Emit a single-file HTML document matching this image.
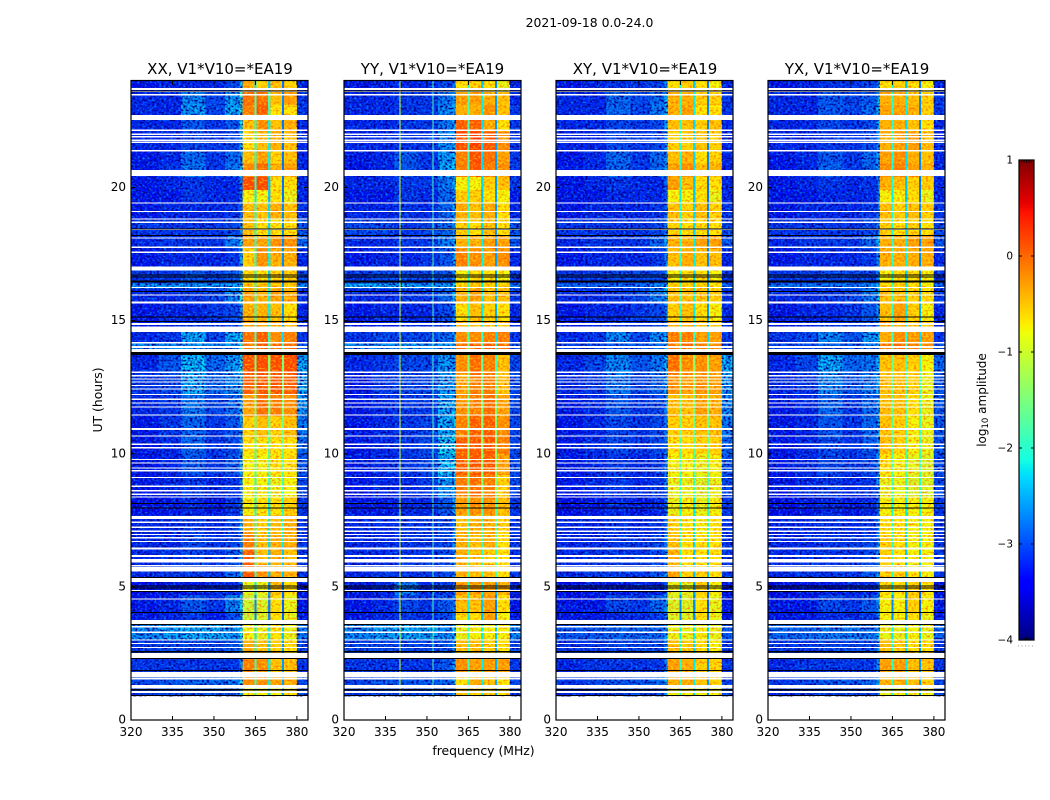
<!DOCTYPE html>
<html>
<head>
<meta charset="utf-8">
<title>2021-09-18 0.0-24.0</title>
<style>
html,body{margin:0;padding:0;background:#fff;width:1050px;height:800px;overflow:hidden}
svg{display:block}
text{font-family:"DejaVu Sans","Liberation Sans",sans-serif;fill:#000}
</style>
</head>
<body>
<svg id="fig" xmlns="http://www.w3.org/2000/svg" width="1050" height="800" viewBox="0 0 1050 800">
  <defs>
    <filter id="speckle-navy" x="0" y="0" width="1" height="1" color-interpolation-filters="sRGB">
      <feTurbulence type="fractalNoise" baseFrequency="0.42 0.5" numOctaves="1" seed="3"/>
      <feColorMatrix type="matrix" values="0 0 0 0 0  0 0 0 0 0  0 0 0 0 0.55  3.6 0 0 0 -1.5"/>
    </filter>
    <filter id="speckle-sky" x="0" y="0" width="1" height="1" color-interpolation-filters="sRGB">
      <feTurbulence type="fractalNoise" baseFrequency="0.42 0.5" numOctaves="1" seed="8"/>
      <feColorMatrix type="matrix" values="0 0 0 0 0  0 0 0 0 0.5  0 0 0 0 1  0 3 0 0 -1.45"/>
    </filter>
    <filter id="speckle-red" x="0" y="0" width="1" height="1" color-interpolation-filters="sRGB">
      <feTurbulence type="fractalNoise" baseFrequency="0.42 0.5" numOctaves="1" seed="5"/>
      <feColorMatrix type="matrix" values="0 0 0 0 1  0 0 0 0 0.3  0 0 0 0 0  2.2 0 0 0 -1"/>
    </filter>
    <filter id="speckle-yellow" x="0" y="0" width="1" height="1" color-interpolation-filters="sRGB">
      <feTurbulence type="fractalNoise" baseFrequency="0.42 0.5" numOctaves="1" seed="11"/>
      <feColorMatrix type="matrix" values="0 0 0 0 1  0 0 0 0 1  0 0 0 0 0  0 1.8 0 0 -0.85"/>
    </filter>
  </defs>
  <rect x="0" y="0" width="1050" height="800" fill="#fff"/>
  <text x="589.5" y="27" font-size="12.4" text-anchor="middle">2021-09-18 0.0-24.0</text>
  <g id="heat"></g>
  <g id="flags"></g>
  <g id="axes"></g>
  <text x="220" y="74" font-size="15" text-anchor="middle">XX, V1*V10=*EA19</text>
  <text x="432.5" y="74" font-size="15" text-anchor="middle">YY, V1*V10=*EA19</text>
  <text x="645" y="74" font-size="15" text-anchor="middle">XY, V1*V10=*EA19</text>
  <text x="857" y="74" font-size="15" text-anchor="middle">YX, V1*V10=*EA19</text>
  <text x="483.5" y="755" font-size="12.4" text-anchor="middle">frequency (MHz)</text>
  <text transform="translate(102,400) rotate(-90)" font-size="12.4" text-anchor="middle">UT (hours)</text>
  <g id="cbar"></g>
  <text transform="translate(986,400) rotate(-90)" font-size="12" text-anchor="middle">log<tspan font-size="8.5" dy="2">10</tspan><tspan dy="-2"> amplitude</tspan></text>
  <line x1="1018" y1="646" x2="1035" y2="646" stroke="#999" stroke-width="1" stroke-dasharray="1 2.5"/>
</svg>
<script>
// Frequency column edges (MHz) and UT row edges (hours)
const freqEdges = [320,330,338,347,354,359.3,360.4,364.6,365.4,369.6,370.4,374.6,375.4,380,384];
const utEdges = [24,23.6,23.1,22.6,22.1,21.4,20.9,20.4,19.9,19.4,18.8,18.2,17.7,17,16.4,16.2,15.7,15,14.6,14.2,13.7,13,12.2,11.4,10.6,10,9.2,8.4,7.7,7,6.4,5.8,5.2,4.7,4,3.6,3,2.5,1.8,1.2,0.9];
const xTickLabels = [320,335,350,365,380];
const yTickLabels = [0,5,10,15,20];
const colorbarTicks = [1,0,-1,-2,-3,-4];

// log10 amplitude per UT row, per frequency column
const ampXX = [
[-3.3,-3.2,-3.2,-3.2,-3.0,-2.4,-0.4,-2.2,-0.6,-2.4,-0.5,-2.8,-0.6,-3.2],
[-3.2,-3.2,-2.6,-3.0,-2.5,-2.0,0.0,-1.8,0.0,-1.9,-0.5,-2.7,-0.3,-3.1],
[-3.2,-3.2,-2.5,-3.0,-2.4,-2.0,-0.1,-1.8,0.1,-1.9,-0.7,-2.8,-0.7,-3.1],
[-3.2,-3.2,-2.9,-3.1,-2.9,-2.2,-0.5,-2.0,-0.2,-2.2,-0.5,-2.8,-0.4,-3.2],
[-3.2,-3.2,-3.0,-3.1,-3.0,-2.4,-0.7,-2.0,-0.5,-2.2,-0.4,-2.8,-0.5,-3.2],
[-3.3,-3.2,-2.8,-3.1,-2.8,-2.4,-0.5,-2.0,-0.3,-2.2,-0.6,-2.8,-0.5,-3.2],
[-3.3,-3.1,-2.7,-3.1,-2.7,-2.3,-0.2,-2.0,0.0,-2.2,-0.4,-2.8,-0.3,-3.2],
[-3.3,-3.2,-3.1,-3.2,-3.2,-2.7,0.2,-2.0,0.2,-2.4,-0.7,-2.8,-0.7,-3.2],
[-3.3,-3.3,-3.1,-3.2,-3.2,-2.8,-0.8,-2.2,-0.8,-2.4,-0.7,-2.8,-0.9,-3.2],
[-3.3,-3.2,-3.2,-3.2,-3.1,-2.8,-0.5,-2.1,-0.5,-2.3,-0.4,-2.7,-0.5,-3.1],
[-3.1,-3.1,-3.1,-3.1,-3.0,-2.6,-0.5,-2.0,-0.7,-2.3,-0.7,-2.7,-0.7,-2.9],
[-3.2,-3.1,-3.1,-3.1,-2.7,-2.2,-0.3,-2.0,-0.3,-2.2,-0.2,-2.7,-0.2,-2.8],
[-3.3,-3.2,-3.2,-3.2,-3.1,-2.5,-0.6,-2.0,-0.2,-2.2,-0.4,-2.7,-0.4,-3.2],
[-3.1,-3.1,-2.9,-3.0,-2.9,-2.4,-0.7,-2.0,-0.7,-2.3,-0.6,-2.7,-0.6,-3.0],
[-2.5,-2.5,-2.5,-2.5,-2.4,-2.1,-0.5,-1.9,-0.5,-2.2,-0.5,-2.6,-0.6,-2.6],
[-3.2,-3.2,-3.1,-3.0,-2.6,-2.1,-0.3,-1.9,-0.4,-2.2,-0.3,-2.6,-0.4,-3.1],
[-3.3,-3.2,-3.2,-3.1,-3.0,-2.6,-0.4,-1.9,-0.4,-2.2,-0.5,-2.6,-0.7,-3.2],
[-3.3,-3.2,-3.1,-3.1,-3.0,-2.6,-0.3,-1.9,-0.3,-2.2,-0.4,-2.6,-0.5,-3.2],
[-3.2,-3.1,-2.4,-3.0,-2.4,-2.2,0.0,-1.8,0.1,-2.0,-0.2,-2.3,-0.1,-3.1],
[-2.6,-2.6,-2.5,-2.6,-2.5,-2.2,-0.1,-1.7,0.1,-1.9,0.0,-2.0,0.0,-2.9],
[-3.2,-2.9,-2.3,-2.8,-2.5,-2.1,0.2,-1.5,0.2,-1.4,0.2,-1.5,0.2,-2.4],
[-3.1,-3.0,-2.4,-2.8,-2.6,-2.2,0.1,-1.5,0.15,-1.4,0.15,-1.5,0.1,-2.4],
[-3.2,-3.1,-2.7,-3.0,-2.8,-2.4,-0.3,-1.5,0.0,-1.5,-0.1,-1.5,-0.2,-2.5],
[-3.3,-3.1,-2.8,-3.1,-2.9,-2.5,-0.6,-1.6,-0.5,-1.6,-0.6,-1.6,-0.5,-2.7],
[-3.3,-3.2,-2.8,-3.1,-3.0,-2.5,-0.7,-1.8,-0.7,-1.7,-0.7,-1.6,-0.7,-2.8],
[-3.3,-3.2,-2.9,-3.1,-2.9,-2.5,-0.8,-1.8,-0.8,-1.7,-0.7,-1.7,-0.7,-2.9],
[-3.3,-3.2,-3.1,-3.2,-3.1,-2.6,-0.8,-2.0,-0.8,-1.9,-0.9,-1.9,-0.8,-3.0],
[-3.4,-3.3,-3.2,-3.3,-3.1,-2.7,-0.8,-2.1,-0.7,-2.2,-0.7,-2.0,-0.6,-3.1],
[-3.2,-3.2,-3.1,-3.2,-3.0,-2.5,-0.4,-2.0,-0.6,-2.2,-0.5,-2.1,-0.4,-3.1],
[-3.2,-3.2,-3.0,-3.1,-3.0,-2.5,-0.1,-2.0,-0.5,-2.3,-0.4,-2.2,-0.4,-3.1],
[-3.2,-3.1,-3.0,-3.1,-2.9,-2.4,0.1,-1.9,-0.5,-2.4,-0.4,-2.4,-0.5,-3.1],
[-3.2,-3.1,-3.1,-3.1,-2.8,-2.3,0.15,-1.9,-0.2,-2.4,-0.4,-2.4,-0.4,-3.1],
[-3.4,-3.3,-3.3,-3.2,-3.2,-2.8,-0.9,-2.2,-0.9,-2.6,-0.5,-2.8,-0.7,-3.3],
[-3.3,-3.2,-2.9,-3.1,-2.6,-2.3,-1.1,-2.7,-1.0,-2.7,-0.7,-2.9,-0.9,-3.3],
[-3.3,-3.2,-3.1,-3.3,-3.0,-2.5,-1.1,-2.7,-1.0,-2.7,-0.7,-2.9,-0.9,-3.3],
[-2.6,-2.5,-2.4,-2.4,-2.5,-2.2,-0.8,-2.2,-0.9,-2.2,-0.7,-2.4,-0.9,-2.7],
[-3.1,-3.0,-3.0,-3.0,-2.9,-2.4,-0.4,-2.1,-0.5,-2.3,-0.6,-2.6,-0.7,-3.0],
[-3.1,-3.1,-3.1,-3.1,-3.1,-2.5,-0.1,-1.9,-0.2,-2.2,-0.5,-2.6,-0.5,-3.1],
[-3.0,-2.9,-2.8,-2.8,-2.7,-2.2,-0.2,-1.9,-0.2,-2.2,-0.3,-2.6,-0.4,-3.0],
[-3.1,-3.0,-2.9,-2.9,-2.9,-2.4,-0.8,-2.0,-0.8,-2.3,-0.8,-2.6,-0.7,-2.9]
];
const ampYY = [
[-3.3,-3.2,-3.2,-3.2,-3.0,-2.7,-0.7,-2.0,-0.6,-2.4,-0.7,-2.7,-0.9,-3.2],
[-3.2,-3.2,-3.1,-3.1,-2.7,-2.5,-0.3,-1.8,-0.3,-2.2,-0.4,-2.6,-0.5,-3.2],
[-3.2,-3.2,-3.1,-3.1,-2.6,-2.4,-0.4,-1.8,-0.4,-2.2,-0.2,-2.6,-0.5,-3.1],
[-3.2,-3.2,-3.1,-3.1,-2.7,-2.4,0.1,-1.9,0.1,-2.3,-0.4,-2.6,-0.7,-3.1],
[-3.2,-3.2,-3.1,-3.1,-2.6,-2.4,0.2,-2.0,0.3,-2.3,0.15,-2.6,-0.2,-3.1],
[-3.3,-3.2,-2.9,-3.1,-2.5,-2.3,-0.1,-1.9,0.2,-2.3,0.0,-2.6,-0.3,-3.1],
[-3.3,-3.2,-2.9,-3.1,-2.4,-2.3,-0.1,-1.9,0.15,-2.3,-0.1,-2.6,-0.2,-3.1],
[-3.2,-3.2,-3.1,-3.1,-2.7,-2.4,-0.8,-2.0,-0.8,-2.3,-0.6,-2.6,-0.5,-3.1],
[-3.3,-3.3,-3.1,-3.2,-2.8,-2.6,-0.6,-2.1,-0.6,-2.4,-0.7,-2.6,-0.8,-3.3],
[-3.2,-3.2,-3.1,-3.2,-2.8,-2.5,-0.4,-2.0,-0.5,-2.4,-0.4,-2.6,-0.7,-3.2],
[-3.0,-3.0,-3.1,-3.0,-2.8,-2.5,-0.6,-2.0,-0.7,-2.3,-0.5,-2.6,-0.7,-2.9],
[-3.2,-3.2,-3.1,-3.1,-2.7,-2.4,-0.4,-2.0,-0.4,-2.2,-0.3,-2.6,-0.3,-2.9],
[-3.3,-3.2,-3.2,-3.1,-2.9,-2.4,-0.1,-1.9,-0.2,-2.2,-0.3,-2.6,-0.2,-3.2],
[-3.1,-3.0,-3.0,-3.0,-2.9,-2.6,-0.8,-2.0,-0.7,-2.3,-0.7,-2.6,-0.8,-3.1],
[-2.4,-2.4,-2.4,-2.5,-2.4,-2.2,-0.6,-1.9,-0.5,-2.2,-0.6,-2.5,-0.6,-2.6],
[-3.2,-3.2,-3.1,-3.1,-2.8,-2.3,-0.4,-1.9,-0.3,-2.2,-0.5,-2.5,-0.5,-3.1],
[-3.3,-3.2,-3.2,-3.2,-3.0,-2.6,-0.7,-1.9,-0.5,-2.2,-0.6,-2.5,-0.7,-3.2],
[-3.3,-3.3,-3.2,-3.2,-3.0,-2.6,-0.5,-1.9,-0.5,-2.2,-0.5,-2.5,-0.6,-3.2],
[-3.1,-3.0,-3.0,-3.0,-2.8,-2.5,-0.2,-1.8,-0.2,-2.0,-0.1,-2.3,-0.1,-3.1],
[-2.6,-2.6,-2.5,-2.6,-2.5,-2.3,0.0,-1.6,0.1,-1.9,0.1,-2.1,0.0,-2.9],
[-3.2,-3.1,-3.0,-3.0,-2.5,-2.6,-0.2,-1.5,0.0,-1.7,-0.1,-1.9,-0.5,-3.0],
[-3.3,-3.1,-3.0,-3.0,-2.5,-2.5,-0.3,-1.5,-0.1,-1.6,-0.1,-1.6,-0.5,-3.0],
[-3.3,-3.2,-3.1,-3.1,-2.4,-2.3,-0.2,-1.5,-0.1,-1.5,0.0,-1.5,-0.3,-3.0],
[-3.3,-3.2,-3.1,-3.0,-2.4,-2.2,-0.1,-1.5,0.1,-1.5,0.1,-1.5,-0.2,-3.0],
[-3.3,-3.2,-3.1,-3.0,-2.2,-2.1,0.1,-1.4,0.15,-1.4,0.15,-1.4,-0.1,-3.0],
[-3.3,-3.2,-3.1,-3.0,-2.3,-2.2,0.1,-1.4,0.15,-1.4,0.1,-1.4,-0.3,-3.0],
[-3.3,-3.2,-3.2,-3.1,-2.5,-2.3,-0.1,-1.5,0.0,-1.5,-0.1,-1.5,-0.6,-3.0],
[-3.3,-3.3,-3.2,-3.2,-2.9,-2.4,-0.3,-1.8,-0.2,-1.8,-0.2,-1.8,-0.5,-3.1],
[-3.2,-3.2,-3.1,-3.1,-3.0,-2.6,-0.5,-1.9,-0.4,-1.9,-0.4,-1.8,-0.6,-3.1],
[-3.2,-3.2,-3.1,-3.1,-3.0,-2.5,-0.4,-1.8,-0.5,-1.9,-0.4,-1.8,-0.7,-3.1],
[-3.2,-3.2,-3.1,-3.1,-3.0,-2.6,-0.4,-1.8,-0.5,-2.0,-0.6,-1.9,-0.7,-3.1],
[-3.2,-3.1,-3.1,-3.1,-3.0,-2.6,-0.4,-1.8,-0.5,-2.0,-0.5,-1.9,-0.7,-3.1],
[-3.3,-3.2,-2.7,-3.2,-3.1,-2.7,-0.3,-2.0,-0.3,-2.2,-0.3,-2.5,-0.4,-3.2],
[-3.3,-3.2,-3.0,-3.1,-2.9,-2.7,-0.5,-2.2,-0.5,-2.4,-0.3,-2.7,-0.7,-3.3],
[-3.3,-3.2,-3.1,-3.2,-3.0,-2.7,-0.7,-2.2,-0.7,-2.4,-0.3,-2.7,-0.8,-3.3],
[-2.6,-2.5,-2.4,-2.4,-2.6,-2.3,-0.9,-2.0,-0.8,-2.2,-0.8,-2.4,-0.8,-2.6],
[-3.0,-3.0,-3.0,-3.0,-2.9,-2.5,-0.5,-2.0,-0.5,-2.2,-0.6,-2.5,-0.7,-3.0],
[-3.1,-3.1,-3.1,-3.1,-2.9,-2.5,-0.2,-1.9,-0.3,-2.2,-0.3,-2.5,-0.3,-3.1],
[-3.0,-2.9,-2.9,-2.9,-2.8,-2.5,-0.7,-2.0,-0.4,-2.2,-0.5,-2.5,-0.7,-3.0],
[-3.1,-3.0,-3.0,-3.0,-2.9,-2.5,-0.5,-2.0,-0.6,-2.2,-0.6,-2.5,-0.7,-3.1]
];
const ampXY = [
[-3.3,-3.2,-3.1,-3.1,-3.0,-2.6,-0.7,-2.1,-0.6,-2.4,-0.7,-2.8,-0.8,-3.2],
[-3.2,-3.2,-2.8,-3.0,-2.8,-2.4,-0.4,-2.0,-0.4,-2.2,-0.6,-2.7,-0.6,-3.1],
[-3.2,-3.2,-2.8,-3.0,-2.7,-2.4,-0.4,-2.0,-0.3,-2.2,-0.7,-2.7,-0.7,-3.1],
[-3.2,-3.2,-3.0,-3.1,-3.0,-2.5,-0.5,-2.0,-0.5,-2.3,-0.6,-2.7,-0.5,-3.2],
[-3.2,-3.2,-3.0,-3.1,-3.0,-2.6,-0.6,-2.1,-0.6,-2.3,-0.5,-2.7,-0.6,-3.2],
[-3.3,-3.2,-2.8,-3.1,-2.8,-2.6,-0.5,-2.1,-0.4,-2.3,-0.7,-2.7,-0.6,-3.2],
[-3.3,-3.2,-2.8,-3.1,-2.8,-2.5,-0.3,-2.1,-0.2,-2.3,-0.5,-2.7,-0.4,-3.2],
[-3.3,-3.2,-3.1,-3.2,-3.2,-2.8,-0.3,-2.1,-0.5,-2.4,-0.7,-2.8,-0.7,-3.2],
[-3.3,-3.3,-3.2,-3.2,-3.2,-2.9,-0.8,-2.2,-0.8,-2.4,-0.7,-2.8,-0.9,-3.2],
[-3.3,-3.2,-3.2,-3.2,-3.1,-2.8,-0.5,-2.1,-0.6,-2.3,-0.5,-2.7,-0.6,-3.1],
[-3.1,-3.1,-3.1,-3.1,-3.0,-2.7,-0.6,-2.1,-0.7,-2.3,-0.7,-2.7,-0.7,-3.0],
[-3.2,-3.1,-3.1,-3.1,-2.8,-2.4,-0.4,-2.0,-0.4,-2.2,-0.3,-2.7,-0.3,-2.9],
[-3.3,-3.2,-3.2,-3.2,-3.1,-2.6,-0.5,-2.0,-0.4,-2.2,-0.5,-2.7,-0.5,-3.2],
[-3.1,-3.1,-3.0,-3.0,-3.0,-2.6,-0.8,-2.0,-0.7,-2.3,-0.7,-2.7,-0.8,-3.1],
[-2.8,-2.8,-2.8,-2.8,-2.6,-2.3,-0.6,-1.9,-0.6,-2.2,-0.6,-2.6,-0.7,-2.8],
[-3.2,-3.2,-3.1,-3.0,-2.7,-2.2,-0.5,-1.9,-0.5,-2.2,-0.5,-2.6,-0.6,-3.1],
[-3.3,-3.2,-3.2,-3.1,-3.0,-2.7,-0.6,-2.0,-0.5,-2.2,-0.7,-2.6,-0.8,-3.2],
[-3.3,-3.2,-3.1,-3.1,-3.0,-2.7,-0.4,-2.0,-0.4,-2.2,-0.5,-2.6,-0.6,-3.2],
[-3.2,-3.1,-2.6,-3.0,-2.6,-2.4,-0.1,-1.8,-0.1,-2.0,-0.3,-2.3,-0.3,-3.1],
[-3.0,-3.0,-2.9,-2.9,-2.8,-2.4,-0.1,-1.7,0.0,-1.9,-0.1,-2.0,-0.2,-2.9],
[-3.2,-3.0,-2.6,-2.9,-2.7,-2.3,0.0,-1.4,-0.2,-1.4,-0.2,-1.4,-0.3,-2.4],
[-3.2,-3.1,-2.7,-3.0,-2.8,-2.4,-0.2,-1.5,-0.3,-1.4,-0.2,-1.5,-0.3,-2.5],
[-3.3,-3.2,-2.9,-3.1,-3.0,-2.6,-0.5,-1.6,-0.5,-1.5,-0.3,-1.5,-0.4,-2.6],
[-3.3,-3.2,-3.0,-3.1,-3.0,-2.7,-0.6,-1.6,-0.6,-1.6,-0.5,-1.6,-0.5,-2.7],
[-3.3,-3.2,-3.0,-3.1,-3.0,-2.7,-0.7,-1.8,-0.7,-1.7,-0.6,-1.6,-0.6,-2.8],
[-3.3,-3.2,-3.1,-3.2,-3.1,-2.7,-0.8,-1.8,-0.8,-1.7,-0.9,-1.7,-0.8,-2.9],
[-3.3,-3.2,-3.1,-3.2,-3.1,-2.7,-0.9,-2.0,-0.9,-1.9,-1.0,-1.9,-0.9,-3.0],
[-3.4,-3.3,-3.2,-3.3,-3.2,-2.8,-0.9,-2.1,-0.8,-2.2,-0.9,-2.0,-0.8,-3.1],
[-3.2,-3.2,-3.1,-3.2,-3.1,-2.7,-0.6,-2.0,-0.7,-2.2,-0.8,-2.1,-0.7,-3.1],
[-3.2,-3.2,-3.1,-3.1,-3.0,-2.6,-0.5,-2.0,-0.7,-2.3,-0.7,-2.2,-0.7,-3.1],
[-3.2,-3.1,-3.1,-3.1,-3.0,-2.6,-0.4,-2.0,-0.7,-2.4,-0.7,-2.4,-0.7,-3.1],
[-3.2,-3.1,-3.1,-3.1,-2.9,-2.5,-0.3,-2.0,-0.6,-2.4,-0.6,-2.4,-0.7,-3.1],
[-3.4,-3.3,-3.3,-3.2,-3.2,-2.9,-0.9,-2.2,-0.9,-2.6,-0.6,-2.8,-0.8,-3.3],
[-3.3,-3.3,-3.0,-3.1,-2.8,-2.5,-1.0,-2.7,-1.0,-2.7,-0.7,-2.9,-0.9,-3.3],
[-3.3,-3.3,-3.2,-3.2,-3.1,-2.7,-1.0,-2.7,-1.0,-2.7,-0.7,-2.9,-0.9,-3.3],
[-2.9,-2.9,-2.8,-2.8,-2.8,-2.5,-0.9,-2.2,-0.9,-2.2,-0.8,-2.4,-0.9,-2.9],
[-3.1,-3.1,-3.0,-3.0,-3.0,-2.6,-0.5,-2.1,-0.6,-2.3,-0.7,-2.6,-0.8,-3.1],
[-3.2,-3.1,-3.1,-3.1,-3.1,-2.6,-0.3,-2.0,-0.4,-2.2,-0.6,-2.6,-0.6,-3.1],
[-3.1,-3.0,-2.9,-2.9,-2.8,-2.4,-0.4,-2.0,-0.4,-2.2,-0.5,-2.6,-0.6,-3.0],
[-3.2,-3.1,-3.0,-3.0,-3.0,-2.5,-0.9,-2.0,-0.8,-2.3,-0.8,-2.6,-0.8,-3.0]
];
const ampYX = [
[-3.3,-3.2,-3.1,-3.1,-3.0,-2.6,-0.7,-2.1,-0.6,-2.4,-0.7,-2.8,-0.8,-3.2],
[-3.2,-3.2,-2.9,-3.0,-2.9,-2.4,-0.4,-2.0,-0.4,-2.2,-0.5,-2.7,-0.6,-3.1],
[-3.2,-3.2,-2.9,-3.0,-2.8,-2.4,-0.3,-2.0,-0.3,-2.2,-0.4,-2.7,-0.6,-3.1],
[-3.2,-3.2,-3.0,-3.1,-3.0,-2.5,-0.4,-2.0,-0.4,-2.3,-0.5,-2.7,-0.7,-3.2],
[-3.2,-3.2,-3.1,-3.1,-3.0,-2.6,-0.4,-2.1,-0.3,-2.3,-0.3,-2.7,-0.5,-3.2],
[-3.3,-3.2,-2.9,-3.1,-2.8,-2.5,-0.3,-2.1,-0.2,-2.3,-0.4,-2.7,-0.5,-3.2],
[-3.3,-3.2,-2.8,-3.1,-2.8,-2.5,-0.2,-2.1,-0.1,-2.3,-0.3,-2.7,-0.4,-3.2],
[-3.3,-3.2,-3.1,-3.2,-3.1,-2.7,-0.4,-2.1,-0.5,-2.4,-0.6,-2.8,-0.6,-3.2],
[-3.3,-3.3,-3.2,-3.2,-3.2,-2.8,-0.8,-2.2,-0.8,-2.4,-0.7,-2.8,-0.9,-3.2],
[-3.3,-3.2,-3.2,-3.2,-3.1,-2.8,-0.5,-2.1,-0.6,-2.3,-0.5,-2.7,-0.6,-3.1],
[-3.1,-3.1,-3.1,-3.1,-3.0,-2.7,-0.6,-2.1,-0.7,-2.3,-0.6,-2.7,-0.7,-3.0],
[-3.2,-3.1,-3.1,-3.1,-2.8,-2.4,-0.4,-2.0,-0.4,-2.2,-0.3,-2.7,-0.3,-2.9],
[-3.3,-3.2,-3.2,-3.2,-3.1,-2.6,-0.4,-2.0,-0.4,-2.2,-0.4,-2.7,-0.4,-3.2],
[-3.1,-3.1,-3.0,-3.0,-3.0,-2.6,-0.8,-2.0,-0.7,-2.3,-0.7,-2.7,-0.8,-3.1],
[-2.7,-2.7,-2.7,-2.7,-2.6,-2.3,-0.6,-1.9,-0.6,-2.2,-0.7,-2.5,-0.8,-2.8],
[-3.2,-3.2,-3.1,-3.0,-2.7,-2.2,-0.5,-1.9,-0.5,-2.2,-0.6,-2.5,-0.7,-3.1],
[-3.3,-3.2,-3.2,-3.1,-2.9,-2.5,-0.5,-2.0,-0.3,-2.2,-0.6,-2.5,-0.8,-3.2],
[-3.3,-3.2,-3.1,-3.1,-3.0,-2.6,-0.3,-2.0,-0.4,-2.2,-0.5,-2.5,-0.6,-3.2],
[-3.1,-3.0,-2.6,-2.9,-2.5,-2.3,-0.4,-1.9,-0.2,-2.1,-0.3,-2.3,-0.3,-3.1],
[-3.0,-3.0,-2.8,-2.9,-2.7,-2.3,-0.1,-1.8,0.0,-2.0,-0.1,-2.2,-0.2,-2.9],
[-3.2,-3.0,-2.4,-2.8,-2.7,-2.4,-0.5,-1.6,-0.5,-1.8,-0.6,-1.9,-0.8,-2.8],
[-3.2,-3.1,-2.6,-2.9,-2.7,-2.4,-0.5,-1.7,-0.5,-1.8,-0.6,-1.9,-0.9,-2.9],
[-3.3,-3.2,-2.8,-3.1,-2.8,-2.5,-0.5,-1.7,-0.5,-1.8,-0.7,-1.9,-0.9,-2.9],
[-3.3,-3.2,-2.9,-3.1,-2.8,-2.5,-0.5,-1.7,-0.6,-1.8,-0.8,-1.9,-0.9,-2.9],
[-3.3,-3.2,-3.0,-3.1,-2.9,-2.6,-0.5,-1.8,-0.6,-1.8,-0.8,-1.9,-0.9,-2.9],
[-3.3,-3.2,-3.0,-3.1,-3.0,-2.6,-0.7,-1.8,-0.8,-1.8,-0.9,-1.9,-1.0,-3.0],
[-3.3,-3.2,-3.1,-3.2,-3.1,-2.6,-0.9,-1.9,-0.9,-1.9,-1.0,-2.0,-1.0,-3.0],
[-3.4,-3.3,-3.2,-3.3,-3.2,-2.8,-0.8,-2.1,-0.8,-2.2,-0.8,-2.1,-0.8,-3.1],
[-3.2,-3.2,-3.1,-3.2,-3.1,-2.7,-0.7,-2.0,-0.7,-2.2,-0.8,-2.1,-0.8,-3.1],
[-3.2,-3.2,-3.1,-3.1,-3.0,-2.6,-0.6,-2.0,-0.7,-2.3,-0.8,-2.2,-0.8,-3.1],
[-3.2,-3.1,-3.1,-3.1,-3.0,-2.6,-0.6,-2.0,-0.7,-2.4,-0.8,-2.4,-0.8,-3.1],
[-3.2,-3.1,-3.1,-3.1,-2.9,-2.5,-0.6,-2.0,-0.6,-2.4,-0.7,-2.4,-0.8,-3.1],
[-3.4,-3.3,-3.3,-3.2,-3.2,-2.8,-0.7,-2.2,-0.7,-2.6,-0.6,-2.8,-0.7,-3.3],
[-3.3,-3.3,-3.0,-3.1,-2.9,-2.5,-0.8,-2.7,-0.8,-2.7,-0.6,-2.9,-0.8,-3.3],
[-3.3,-3.3,-3.2,-3.2,-3.1,-2.7,-0.8,-2.7,-0.8,-2.7,-0.7,-2.9,-0.9,-3.3],
[-2.8,-2.8,-2.7,-2.7,-2.7,-2.4,-0.9,-2.2,-0.9,-2.2,-0.8,-2.4,-0.9,-2.8],
[-3.1,-3.1,-3.0,-3.0,-3.0,-2.6,-0.5,-2.1,-0.6,-2.3,-0.7,-2.6,-0.7,-3.1],
[-3.2,-3.1,-3.1,-3.1,-3.1,-2.6,-0.3,-2.0,-0.3,-2.2,-0.5,-2.6,-0.5,-3.1],
[-3.1,-3.0,-2.9,-2.9,-2.8,-2.4,-0.4,-2.0,-0.4,-2.2,-0.5,-2.6,-0.6,-3.0],
[-3.2,-3.1,-3.0,-3.0,-3.0,-2.5,-0.9,-2.0,-0.8,-2.3,-0.8,-2.6,-0.8,-3.0]
];

// Narrow interference lines seen in the YY panel only: MHz and log10 amplitude
const yyLineFreqs = [340,352];
const yyLineAmps = [-1.0,-1.8];

// Flagged integrations, as [upper UT, lower UT] spans
const whiteFlags = [[23.74,23.66],[23.63,23.59],[23.51,23.45],[22.72,22.54],[22.18,22.12],[22.03,21.97],[21.93,21.88],[21.80,21.75],[21.72,21.68],[21.41,21.36],[20.66,20.43],[19.43,19.39],[19.12,19.08],[18.84,18.79],[18.72,18.66],[18.44,18.40],[18.13,18.08],[17.78,17.73],[17.59,17.54],[17.03,16.88],[16.27,16.23],[15.99,15.94],[15.71,15.64],[14.92,14.84],[14.77,14.58],[14.19,14.14],[14.05,13.98],[13.93,13.83],[13.08,13.03],[12.96,12.91],[12.83,12.80],[12.71,12.67],[12.58,12.55],[12.46,12.41],[12.24,12.21],[12.07,12.02],[11.92,11.88],[11.77,11.74],[11.47,11.43],[10.96,10.90],[10.68,10.64],[10.39,10.32],[10.25,10.19],[9.81,9.77],[9.68,9.64],[9.49,9.45],[9.39,9.34],[9.12,9.08],[8.80,8.76],[8.64,8.59],[8.51,8.46],[8.39,8.35],[7.66,7.54],[7.45,7.40],[7.26,7.21],[7.11,7.06],[6.99,6.94],[6.87,6.82],[6.73,6.70],[6.47,6.41],[6.19,6.12],[6.04,5.91],[5.82,5.77],[5.74,5.57],[5.34,5.18],[4.88,4.85],[4.57,4.53],[3.76,3.61],[3.53,3.48],[3.32,3.27],[3.03,2.98],[2.90,2.87],[2.75,2.70],[2.51,2.33],[1.81,1.59],[1.57,1.53],[1.31,1.19],[1.09,1.01]];
const blackFlags = [[23.65,23.63],[18.46,18.44],[18.22,18.18],[16.73,16.69],[16.65,16.63],[16.50,16.43],[16.12,16.09],[15.15,15.11],[14.99,14.94],[13.82,13.70],[8.15,8.11],[7.98,7.94],[5.38,5.34],[5.05,5.03],[4.98,4.96],[4.85,4.82],[4.05,4.01],[3.61,3.57],[2.60,2.53],[2.33,2.30],[1.88,1.84],[1.16,1.10],[0.94,0.91]];

// Layout of the figure
const panelLefts = [131,344,556,768];
const panelNames = ['xx','yy','xy','yx'];
const panelGrids = [ampXX,ampYY,ampXY,ampYX];
const plotTop = 81, plotBottom = 720, plotWidth = 177;
const freqMin = 320, pxPerMHz = 2.765, utMax = 24;
const cbLeft = 1019, cbRight = 1034, cbTop = 160, cbBottom = 640;
const SVGNS = 'http://www.w3.org/2000/svg';

function xScale(left, mhz){ return left + (mhz - freqMin) * pxPerMHz; }
function yScale(ut){ return plotBottom - ut * (plotBottom - plotTop) / utMax; }
function cbScale(v){ return cbBottom - (v + 4) * (cbBottom - cbTop) / 5; }
function jetChannel(t, knots){
  for (let i = 1; i < knots.length; i++){
    if (t <= knots[i][0]){
      const a = knots[i-1], b = knots[i];
      return a[1] + (b[1]-a[1]) * (t-a[0]) / (b[0]-a[0]);
    }
  }
  return knots[knots.length-1][1];
}
function jet(v){
  const t = Math.max(0, Math.min(1, (v + 4) / 5));
  const r = jetChannel(t, [[0,0],[0.35,0],[0.66,1],[0.89,1],[1,0.5]]);
  const g = jetChannel(t, [[0,0],[0.125,0],[0.375,1],[0.64,1],[0.91,0],[1,0]]);
  const b = jetChannel(t, [[0,0.5],[0.11,1],[0.34,1],[0.65,0],[1,0]]);
  return 'rgb(' + Math.round(r*255) + ',' + Math.round(g*255) + ',' + Math.round(b*255) + ')';
}
function add(parent, tag){
  const el = document.createElementNS(SVGNS, tag);
  parent.appendChild(el);
  return el;
}
function setAttrs(el, attrs){
  for (const k in attrs) el.setAttribute(k, attrs[k]);
}
// Decorative pixel-noise texture laid over the cells; it carries no data values.
function addTexture(x0, x1, filterId){
  const tex = add(heat, 'rect');
  
  
  const y0 = yScale(utEdges[0]);
  const y1 = yScale(utEdges[utEdges.length-1]);
  setAttrs(tex, {x:x0, y:y0, width:x1-x0, height:y1-y0, fill:'#000', filter:'url(#' + filterId + ')'});
}

const heat = document.getElementById('heat');
const flags = document.getElementById('flags');
const axes = document.getElementById('axes');
const cbar = document.getElementById('cbar');

panelLefts.forEach(function(left, p){
  const grid = panelGrids[p];
  grid.forEach(function(row, r){
    row.forEach(function(value, c){
      const x0 = xScale(left, freqEdges[c]);
      const x1 = Math.min(xScale(left, freqEdges[c+1]), left + plotWidth);
      const y0 = yScale(utEdges[r]);
      const y1 = yScale(utEdges[r+1]);
      const cell = add(heat, 'rect');
      
      
      setAttrs(cell, {x:x0, y:y0, width:x1-x0, height:y1-y0, fill:jet(value), 'shape-rendering':'crispEdges'});
    });
  });
  // Texture skips the notch columns so they stay clean, saturated stripes.
  const bgEnd = xScale(left, freqEdges[6]);
  addTexture(left, bgEnd, 'speckle-navy');
  addTexture(left, bgEnd, 'speckle-sky');
  addTexture(xScale(left, freqEdges[13]), left + plotWidth, 'speckle-navy');
  addTexture(xScale(left, freqEdges[13]), left + plotWidth, 'speckle-sky');
  for (let b = 6; b < 13; b += 2){
    addTexture(xScale(left, freqEdges[b]), xScale(left, freqEdges[b+1]), 'speckle-red');
    addTexture(xScale(left, freqEdges[b]), xScale(left, freqEdges[b+1]), 'speckle-yellow');
  }
  if (panelNames[p] === 'yy'){
    yyLineFreqs.forEach(function(f, i){
      const rfi = add(heat, 'rect');
      
      
      setAttrs(rfi, {x:xScale(left, f), y:yScale(utEdges[0]), width:1, height:yScale(utEdges[utEdges.length-1])-yScale(utEdges[0]), fill:jet(yyLineAmps[i]), 'shape-rendering':'crispEdges'});
    });
  }
  whiteFlags.forEach(function(s){
    const y0 = yScale(s[0]);
    const band = add(flags, 'rect');
    
    
    setAttrs(band, {x:left, y:y0, width:plotWidth, height:Math.max(1, yScale(s[1])-y0), fill:'#fff', 'shape-rendering':'crispEdges'});
  });
  blackFlags.forEach(function(s){
    const y0 = yScale(s[0]);
    const band = add(flags, 'rect');
    
    
    setAttrs(band, {x:left, y:y0, width:plotWidth, height:Math.max(1, yScale(s[1])-y0), fill:'#000', 'shape-rendering':'crispEdges'});
  });

  const frame = add(axes, 'rect');
  
  
  setAttrs(frame, {x:left, y:plotTop-0.5, width:plotWidth, height:plotBottom-plotTop+0.5, fill:'none', stroke:'#000', 'stroke-width':1.2});

  xTickLabels.forEach(function(v){
    const x = xScale(left, v);
    [[plotBottom, plotBottom-4],[plotTop, plotTop+4]].forEach(function(e){
      const t = add(axes, 'line');
      
      
      setAttrs(t, {x1:x, x2:x, y1:e[0], y2:e[1], stroke:'#000', 'stroke-width':1});
    });
    const lab = add(axes, 'text');
    
    
    setAttrs(lab, {x:x, y:736, 'font-size':12, 'text-anchor':'middle'});
    lab.textContent = v;
  });
  yTickLabels.forEach(function(v){
    const y = yScale(v);
    [[left, left+4],[left+plotWidth, left+plotWidth-4]].forEach(function(e){
      const t = add(axes, 'line');
      
      
      setAttrs(t, {x1:e[0], x2:e[1], y1:y, y2:y, stroke:'#000', 'stroke-width':1});
    });
    const lab = add(axes, 'text');
    
    
    setAttrs(lab, {x:left-5, y:y+3.5, 'font-size':12, 'text-anchor':'end'});
    lab.textContent = v;
  });
});

// Colorbar: one strip per pixel row, coloured by the same jet scale
for (let py = cbTop; py < cbBottom; py++){
  const value = 1 - (py + 0.5 - cbTop) * 5 / (cbBottom - cbTop);
  const strip = add(cbar, 'rect');
  
  
  setAttrs(strip, {x:cbLeft, y:py, width:cbRight-cbLeft, height:1, fill:jet(value), 'shape-rendering':'crispEdges'});
}
const cbFrame = add(cbar, 'rect');


setAttrs(cbFrame, {x:cbLeft, y:cbTop, width:cbRight-cbLeft, height:cbBottom-cbTop, fill:'none', stroke:'#000', 'stroke-width':1.2});
colorbarTicks.forEach(function(v){
  const y = cbScale(v);
  [[cbLeft, cbLeft+3],[cbRight, cbRight-3]].forEach(function(e){
    const t = add(cbar, 'line');
    
    
    setAttrs(t, {x1:e[0], x2:e[1], y1:y, y2:y, stroke:'#000', 'stroke-width':1});
  });
  const lab = add(cbar, 'text');
  
  
  setAttrs(lab, {x:cbLeft-6, y:y+3.5, 'font-size':10.5, 'text-anchor':'end'});
  lab.textContent = String(v).replace('-', '\u2212');
});
for (let i = 1; i < 6; i++){
  const tx = cbLeft + i * (cbRight - cbLeft) / 6;
  [[cbTop, cbTop+3],[cbBottom, cbBottom-3]].forEach(function(e){
    const t = add(cbar, 'line');
    
    
    setAttrs(t, {x1:tx, x2:tx, y1:e[0], y2:e[1], stroke:'#000', 'stroke-width':0.8});
  });
}
</script>
</body>
</html>
